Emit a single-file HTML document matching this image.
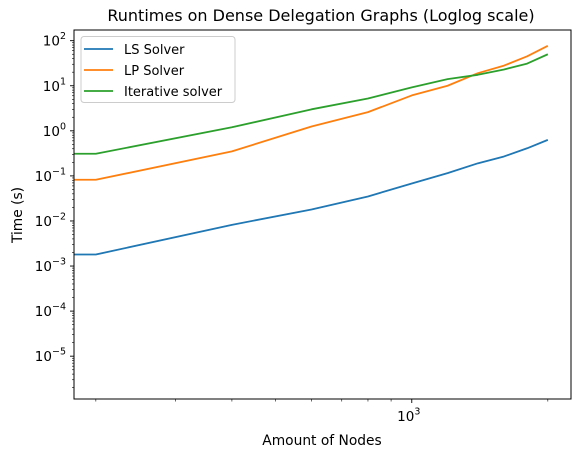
<!DOCTYPE html>
<html><head><meta charset="utf-8"><style>
body{margin:0;background:#fff;}
svg{display:block;font-family:"DejaVu Sans","Liberation Sans",sans-serif;}
</style></head><body>
<svg id="chart" width="578" height="457"></svg>
<script>
const xValues = [200, 400, 600, 800, 1000, 1200, 1400, 1600, 1800, 2000];
const lsSolver = [0.0018, 0.0082, 0.018, 0.035, 0.068, 0.115, 0.19, 0.27, 0.41, 0.63];
const lpSolver = [0.082, 0.35, 1.25, 2.6, 6.1, 10, 19, 28, 45, 77];
const iterSolver = [0.31, 1.2, 3.0, 5.2, 9.2, 14, 17.5, 23, 31, 50];
const yTickExps = [2, 1, 0, -1, -2, -3, -4, -5];
const xTickExps = [3];
const seriesNames = ["LS Solver", "LP Solver", "Iterative solver"];
const seriesColors = ["#1f77b4", "#ff7f0e", "#2ca02c"];

const L = 74, R = 571, T = 30, B = 399;
const xLogMin = 2.2527, xLogMax = 3.3523;
const yLogMin = -5.95, yLogMax = 2.237;
function xs(v){ return L + (Math.log10(v) - xLogMin) / (xLogMax - xLogMin) * (R - L); }
function ys(v){ return B - (Math.log10(v) - yLogMin) / (yLogMax - yLogMin) * (B - T); }

const svg = document.getElementById('chart');
const NS = 'http://www.w3.org/2000/svg';
function mk(tag, attrs, parent){
  const e = document.createElementNS(NS, tag);
  for (const k in attrs) e.setAttribute(k, attrs[k]);
  (parent || svg).appendChild(e);
  return e;
}

let t = mk('text', {x: 321, y: 21, 'text-anchor': 'middle', 'font-size': 16});
t.textContent = 'Runtimes on Dense Delegation Graphs (Loglog scale)';



const allSeries = [lsSolver, lpSolver, iterSolver];
allSeries.forEach((s, i) => {
  let d = 'M' + L + ',' + ys(s[0]).toFixed(2);
  xValues.forEach((x, j) => { d += ' L' + xs(x).toFixed(2) + ',' + ys(s[j]).toFixed(2); });
  const p = mk('path', {d: d, fill: 'none', stroke: seriesColors[i], 'stroke-width': 1.8, 'stroke-linejoin': 'round'});
  
  
});

const fr = mk('rect', {x: L, y: T, width: R - L, height: B - T, fill: 'none', stroke: '#000', 'stroke-width': 1});



yTickExps.forEach(e => {
  const y = ys(Math.pow(10, e));
  mk('line', {x1: L - 4, x2: L, y1: y, y2: y, stroke: '#000', 'stroke-width': 0.9});
  const tx = mk('text', {x: L - 8, y: y + 5, 'text-anchor': 'end', 'font-size': 13.5});
  tx.textContent = '10';
  const sup = mk('tspan', {dy: -6.5, 'font-size': 9.5}, tx);
  sup.textContent = e < 0 ? '\u2212' + (-e) : String(e);
  
  
});
for (let e = -6; e <= 2; e++) {
  for (let m = 2; m <= 9; m++) {
    const v = m * Math.pow(10, e);
    const lv = Math.log10(v);
    if (lv < yLogMin || lv > yLogMax) continue;
    const y = ys(v);
    mk('line', {x1: L - 2, x2: L, y1: y, y2: y, stroke: '#000', 'stroke-width': 0.6});
  }
}
xTickExps.forEach(e => {
  const x = xs(Math.pow(10, e));
  mk('line', {x1: x, x2: x, y1: B, y2: B + 4, stroke: '#000', 'stroke-width': 0.9});
  const tx = mk('text', {x: x - 3, y: B + 22, 'text-anchor': 'middle', 'font-size': 13.5});
  tx.textContent = '10';
  const sup = mk('tspan', {dy: -6.5, 'font-size': 9.5}, tx);
  sup.textContent = String(e);
  
  
});
for (let e = 2; e <= 3; e++) {
  for (let m = 2; m <= 9; m++) {
    const v = m * Math.pow(10, e);
    const lv = Math.log10(v);
    if (lv < xLogMin || lv > xLogMax) continue;
    const x = xs(v);
    mk('line', {x1: x, x2: x, y1: B, y2: B + 2.5, stroke: '#000', 'stroke-width': 0.6});
  }
}

t = mk('text', {x: 322, y: 445, 'text-anchor': 'middle', 'font-size': 13.8});
t.textContent = 'Amount of Nodes';


t = mk('text', {x: 0, y: 0, 'text-anchor': 'middle', 'font-size': 13.8, transform: 'translate(22,215) rotate(-90)'});
t.textContent = 'Time (s)';



const lg = mk('g', {});


mk('rect', {x: 81, y: 36.5, width: 154, height: 66, rx: 3, fill: '#fff', 'fill-opacity': 0.8, stroke: '#ccc', 'stroke-width': 1}, lg);
seriesNames.forEach((n, i) => {
  const y = 49 + i * 21;
  const g = mk('g', {}, lg);
  
  
  mk('line', {x1: 84, x2: 113, y1: y, y2: y, stroke: seriesColors[i], 'stroke-width': 1.8}, g);
  const tx = mk('text', {x: 124, y: y + 5, 'font-size': 13}, g);
  tx.textContent = n;
});
</script>
</body></html>
